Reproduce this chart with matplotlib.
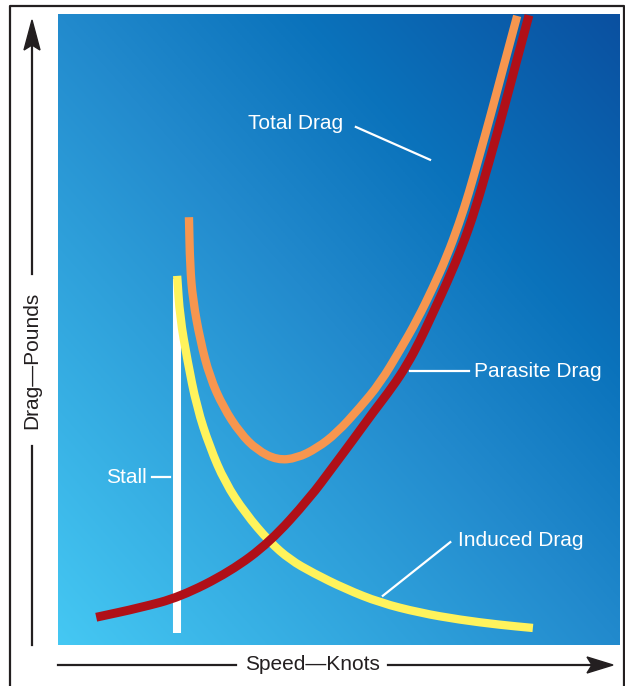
import numpy as np
import matplotlib.pyplot as plt
from matplotlib.patches import Polygon, PathPatch
from matplotlib.path import Path

plt.rcParams['font.family'] = ['Liberation Sans', 'DejaVu Sans']

# drag curves, speed (0-100) vs drag (0-100)
parasite_speed = [6.8, 14.6, 21.7, 30.6, 37.7, 44.8, 48.9, 52.5, 56.0, 59.6, 62.1, 64.4,
                  66.7, 69.2, 71.9, 74.2, 76.7, 79.2, 81.5, 83.8]
parasite_drag = [4.4, 5.9, 7.6, 11.6, 16.3, 23.3, 28.2, 32.5, 36.8, 41.0, 44.4, 48.2,
                 52.6, 57.4, 63.1, 68.9, 76.5, 84.5, 92.2, 99.8]

total_speed = [23.3, 23.5, 24.0, 25.3, 27.0, 29.4, 32.4, 35.4, 39.0, 42.5, 46.1, 49.6,
               53.7, 57.3, 60.9, 63.9, 66.7, 69.2, 71.4, 73.1, 74.9, 76.9, 79.2, 81.7]
total_drag = [67.8, 60.0, 54.7, 48.3, 42.5, 37.7, 33.6, 30.9, 29.3, 29.6, 31.2, 33.6,
              37.6, 41.5, 46.8, 51.5, 56.6, 61.6, 66.9, 71.6, 77.3, 83.7, 91.4, 99.7]

induced_speed = [21.2, 21.7, 23.0, 24.7, 27.0, 29.7, 33.3, 37.7, 41.3, 45.4, 51.1, 57.3,
                 64.4, 71.5, 78.6, 84.5]
induced_drag = [58.5, 52.0, 45.2, 37.7, 31.4, 25.8, 20.9, 16.3, 13.5, 11.4, 8.9, 6.7,
                5.1, 4.0, 3.2, 2.7]

stall_speed = 21.2
stall_range = [1.9, 58.0]

ink = '#231f20'
fs = 15


def smooth_path(xs, ys):
    # quadratic bezier through the midpoints, read points act as control points
    pts = np.column_stack([xs, ys])
    verts = [pts[0], (pts[0] + pts[1]) / 2]
    codes = [Path.MOVETO, Path.LINETO]
    for i in range(1, len(pts) - 1):
        verts += [pts[i], (pts[i] + pts[i + 1]) / 2]
        codes += [Path.CURVE3, Path.CURVE3]
    verts.append(pts[-1])
    codes.append(Path.LINETO)
    return Path(verts, codes)


fig = plt.figure(figsize=(6.25, 6.86), dpi=100)

# page overlay in pixel units: frame, axis arrows, axis titles
page = fig.add_axes([0, 0, 1, 1])
page.set_xlim(0, 625)
page.set_ylim(686, 0)
page.axis('off')
page.plot([10, 10, 623.5, 623.5], [686, 6, 6, 686], color=ink, lw=1.6)
page.plot([32, 32], [645, 446], color=ink, lw=1.6)
page.plot([32, 32], [274, 42], color=ink, lw=1.6)
page.add_patch(Polygon([(32, 20), (40, 50), (32, 45), (24, 50)], closed=True, color=ink))
page.plot([58, 236], [665, 665], color=ink, lw=1.6)
page.plot([388, 595], [665, 665], color=ink, lw=1.6)
page.add_patch(Polygon([(613, 665), (587, 657), (592, 665), (587, 673)], closed=True, color=ink))
page.text(312, 665, 'Speed\u2014Knots', fontsize=fs, color=ink, ha='center', va='center')
page.text(32, 360, 'Drag\u2014Pounds', fontsize=fs, color=ink, ha='center', va='center',
          rotation=90)

# chart panel
ax = fig.add_axes([58 / 625, 41 / 686, 562 / 625, 631 / 686])
ax.set_xlim(0, 100)
ax.set_ylim(0, 100)
ax.axis('off')

# diagonal gradient background
n = 300
u, v = np.meshgrid(np.linspace(0, 1, n), np.linspace(0, 1, n))
t = (u + v) / 2
stops = [0.0, 0.5, 0.72, 1.0]
cols = np.array([[0x45, 0xc8, 0xf3], [0x22, 0x8a, 0xcd], [0x0a, 0x72, 0xbb], [0x0b, 0x50, 0xa0]]) / 255
img = np.dstack([np.interp(t, stops, cols[:, k]) for k in range(3)])
ax.imshow(img, extent=[0, 100, 0, 100], origin='lower', aspect='auto', zorder=0)

ax.plot([stall_speed, stall_speed], stall_range, color='white', lw=5.8,
        solid_capstyle='butt', zorder=2)
curves = [
    (induced_speed, induced_drag, '#fff35c', 6.0, 3),
    (parasite_speed, parasite_drag, '#b01018', 6.4, 4),
    (total_speed, total_drag, '#f7964f', 6.0, 5),
]
for xs, ys, c, w, z in curves:
    ax.add_patch(PathPatch(smooth_path(xs, ys), facecolor='none', edgecolor=c, lw=w,
                           capstyle='butt', joinstyle='round', zorder=z))

# labels with leader lines
ax.text(33.8, 82.7, 'Total Drag', fontsize=fs, color='white', ha='left', va='center')
ax.plot([53.0, 66.2], [82.1, 76.9], color='white', lw=1.6)
ax.text(74.0, 43.4, 'Parasite Drag', fontsize=fs, color='white', ha='left', va='center')
ax.plot([62.6, 73.1], [43.4, 43.4], color='white', lw=1.6, zorder=6)
ax.text(71.2, 16.6, 'Induced Drag', fontsize=fs, color='white', ha='left', va='center')
ax.plot([57.8, 69.8], [7.8, 16.3], color='white', lw=1.6, zorder=6)
ax.text(15.8, 26.6, 'Stall', fontsize=fs, color='white', ha='right', va='center')
ax.plot([16.7, 19.9], [26.6, 26.6], color='white', lw=1.6)

fig.savefig('out.png', dpi=100)
